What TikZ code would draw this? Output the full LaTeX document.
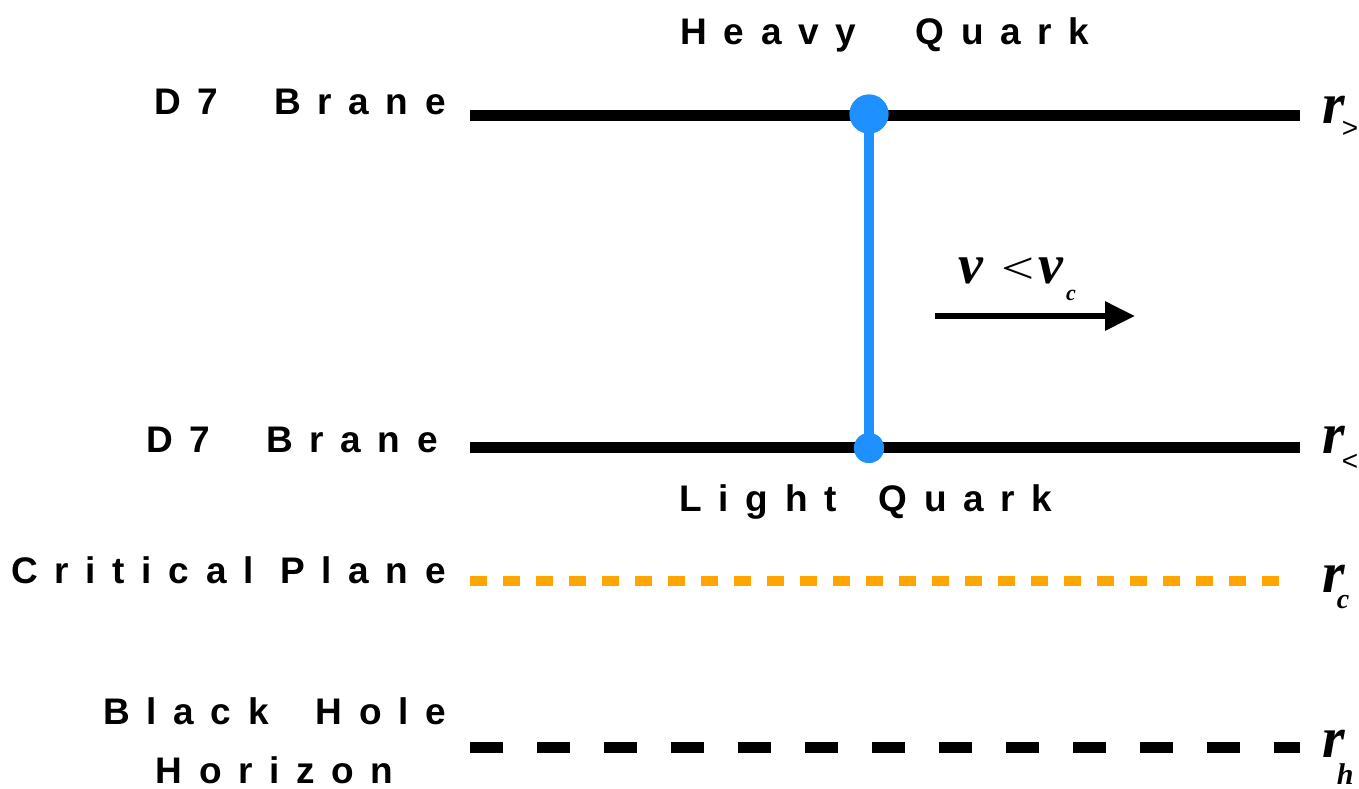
\documentclass[tikz,border=0pt]{standalone}
\usepackage{fontspec}
\setmainfont{Liberation Sans}
\newfontfamily\lab[LetterSpace=45]{Liberation Sans}
\newfontfamily\tms{Liberation Serif}
\usetikzlibrary{arrows.meta}
\definecolor{qblue}{RGB}{30,144,255}
\definecolor{corange}{RGB}{255,165,0}
\tikzset{
  lbl/.style={font=\lab\bfseries\fontsize{37}{59}\selectfont, inner sep=0pt},
  rlbl/.style={font=\tms\bfseries\itshape\fontsize{58}{60}\selectfont, inner sep=0pt, anchor=base west},
  brane/.style={line width=11pt},
  critical/.style={line width=10pt, corange, dash pattern=on 17pt off 16pt},
  horizon/.style={line width=11pt, dash pattern=on 33pt off 34pt},
  quark/.style={circle, fill=qblue, inner sep=0pt},
  qstring/.style={line width=10pt, qblue},
  vel/.style={line width=6pt, -{Triangle[length=30pt,width=28pt]}},
}
\newcommand{\subsans}[1]{{\fontspec{Liberation Sans}\mdseries\upshape\fontsize{28}{30}\selectfont #1}}
\newcommand{\subbi}[2]{{\fontsize{#1}{30}\selectfont #2}}
\begin{document}
\begin{tikzpicture}[x=1pt,y=-1pt]
\useasboundingbox (0,0) rectangle (1359,788);
% line end points
\coordinate (b1l) at (470,115);
\coordinate (b1r) at (1300,115);
\coordinate (b2l) at (470,447);
\coordinate (b2r) at (1300,447);
\coordinate (cpl) at (470,581);
\coordinate (cpr) at (1290,581);
\coordinate (bhl) at (470,747);
\coordinate (bhr) at (1300,747);
\coordinate (va) at (935,316);
\coordinate (vb) at (1135,316);
% lines
\draw[brane] (b1l) -- (b1r);
\draw[brane] (b2l) -- (b2r);
\draw[critical] (cpl) -- (cpr);
\draw[horizon] (bhl) -- (bhr);
% quarks
\node[quark, minimum size=39pt] (hq) at (869,114) {};
\node[quark, minimum size=30pt] (lq) at (869,448) {};
\draw[qstring] (hq.center) -- (lq.center);
\node[quark, minimum size=39pt] at (hq) {};
\node[quark, minimum size=30pt] at (lq) {};
% velocity
\draw[vel] (va) -- (vb);
\node[font=\fontsize{56}{60}\selectfont, inner sep=0pt, anchor=base west] (vlab) at (958,283)
  {{\tms\bfseries\itshape v}\hspace{18pt}{\tms\scalebox{1.05}[0.8]{<}}\hspace{4pt}{\tms\bfseries\itshape v}\hspace{3pt}\raisebox{-17pt}{\tms\bfseries\itshape\fontsize{22}{24}\selectfont c}};
% left labels
\node[lbl, anchor=base east] (d7a) at (446,114) {D7\hspace{29pt} Brane};
\node[lbl, anchor=base east] (d7b) at (438,452) {D7\hspace{29pt} Brane};
\node[lbl, anchor=base east] (crit) at (446,583) {Critical Plane};
\node[lbl, anchor=base east, align=center] (bh) at (446,783) {Black\hspace{20pt} Hole\\Horizon\hspace{14pt}};
\node[lbl, anchor=base] (heavy) at (885,44) {Heavy\hspace{33pt} Quark};
\node[lbl, anchor=base] (light) at (866,511) {Light\hspace{15pt} Quark};
% right labels
\node[rlbl] (rg) at (1322,123) {r\kern-3pt\raisebox{-14pt}{\subsans{>}}};
\node[rlbl] (rl) at (1322,453) {r\kern-3pt\raisebox{-17pt}{\subsans{<}}};
\node[rlbl] (rc) at (1322,592) {r\kern-8pt\raisebox{-16pt}{\subbi{28}{c}}};
\node[rlbl] (rh) at (1322,757) {r\kern-8pt\raisebox{-27pt}{\subbi{30}{h}}};
\end{tikzpicture}
\end{document}
